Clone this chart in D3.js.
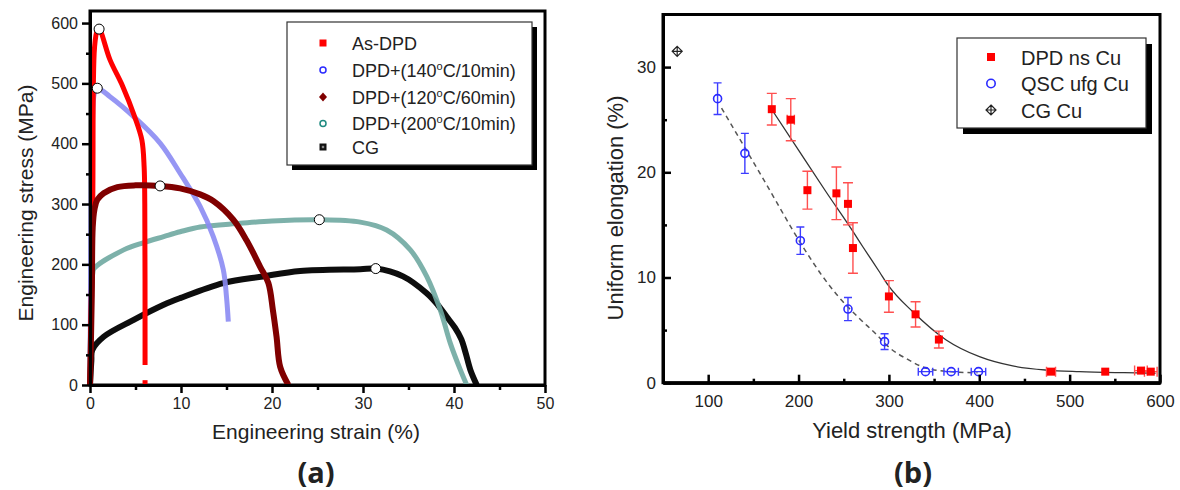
<!DOCTYPE html>
<html>
<head>
<meta charset="utf-8">
<script src="https://cdn.jsdelivr.net/npm/d3@7"></script>
<style>
    body { margin: 0; background: #fff; }
    text { font-family: "Liberation Sans", Arial, sans-serif; fill: #222; }
</style>
</head>
<body>
<div id="draw_here"></div>
<script type="text/javascript">
    // ---- (a) engineering stress-strain curves, [strain %, stress MPa]
    var asDpd = [[0,0],[0.3,300],[0.5,560],[0.8,588],[1.0,590],[2.2,539],[3.6,495],[4.9,445],[5.7,406],[5.95,361],[6.02,300],[6.05,33]]
    var asDpdTail = [[6.05,8],[6.05,0]]
    var dpd140 = [[0,0],[0.1,250],[0.25,430],[0.5,485],[0.8,492],[2.2,478],[4.8,445],[7.7,401],[9.9,351],[12.1,296],[13.55,246],[14.65,191],[15.0,146],[15.2,105]]
    var dpd120 = [[0,0],[0.2,150],[0.3,262],[0.5,292],[0.8,307],[1.5,318],[3.0,328],[5.0,331],[7.7,330],[9.9,326],[12.1,316],[13.55,305],[15.75,274],[17.2,240],[18.7,196],[19.6,169],[20.1,124],[20.5,80],[20.9,30],[21.8,0]]
    var dpd200 = [[0,0],[0.1,120],[0.3,185],[0.44,193],[3.7,224],[5.9,236],[8.1,246],[9.9,254],[12.1,262],[16.5,268],[20,272],[25.2,274],[29.7,270],[32.6,257],[35.2,224],[37.0,180],[38.5,124],[39.6,69],[40.7,25],[41.4,0]]
    var cg = [[0,0],[0.15,40],[0.25,58],[1.5,80],[4.8,108],[8.1,133],[9.9,144],[14.65,169],[19,180],[23.1,189],[29.7,192],[31.4,193],[34.4,180],[37.0,152],[38.2,133],[39.2,113],[40.1,95],[40.8,76],[41.3,52],[41.8,25],[42.5,0]]
    var peaksA = [[1.0,590],[0.8,492],[7.7,330],[25.2,274],[31.4,193]]

    var xTicksA = [0,10,20,30,40,50]
    var yTicksA = [0,100,200,300,400,500,600]

    // ---- (b) uniform elongation vs yield strength
    var dpdYs = [170.4,191.4,209.8,241.9,254.7,260.2,300,329.5,355.3,479.4,539.4,578.9,589.8]
    var dpdUe = [26.0,25.0,18.3,18.0,17.0,12.8,8.2,6.5,4.1,1.05,1.05,1.15,1.05]
    var dpdUeErr = [1.5,2.0,1.8,2.5,2.0,2.4,1.5,1.2,0.8,0,0,0,0]
    var dpdYsErr = [0,4,0,0,0,0,0,0,0,5,0,7,7]

    var qscYs = [110.4,140.6,202,254.7,295.2,340.5,368.9,399.1]
    var qscUe = [27.0,21.8,13.5,7.0,3.9,1.05,1.05,1.05]
    var qscUeErr = [1.5,1.9,1.3,1.1,0.75,0,0,0]
    var qscYsErr = [0,0,0,0,0,8,8,8]

    var cgYs = [65.7]
    var cgUe = [31.5]

    var fitDpdYs = [170.9,200,230,260,271.3,289.8,298.9,326.5,363.4,400.2,437,474,510.7,560,595]
    var fitDpdUe = [25.9,22.1,18.2,14.4,12.9,10.5,9.3,6.74,4.06,2.47,1.59,1.2,1.05,0.95,0.9]
    var fitQscYs = [114.8,160,205,225,244,265,286,301,319,345,378,398]
    var fitQscUe = [26.1,19.5,12.9,10.3,8.2,6.3,4.6,3.3,2.3,1.3,1.0,0.95]

    var xTicksB = [100,200,300,400,500,600]
    var yTicksB = [0,10,20,30]

    l_red = "#ff0000"
    l_blue = "#2b2bff"

    var svg = d3.select("div#draw_here").append("svg")
        .attr("width", 1180)
        .attr("height", 490)
        .attr("viewBox", [0, 0, 1180, 490]);

    // ================= panel (a) =================
    xA = d3.scaleLinear().domain([0, 50]).range([90, 545])
    yA = d3.scaleLinear().domain([0, 620]).range([385, 11])

    svg.append("rect")
        .attr("x", xA(0)).attr("y", yA(620))
        .attr("width", xA(50) - xA(0)).attr("height", yA(0) - yA(620))
        .attr("fill", "none").attr("stroke", "#000").attr("stroke-width", 3)

    lineA = d3.line()
        .x(d => xA(d[0]))
        .y(d => yA(d[1]))
        .curve(d3.curveCatmullRom.alpha(0.5))

    // drawing order as in the figure: black under, dark red on top
    var curvesA = [
        {data: cg, color: "#000", width: 6, op: 0.95},
        {data: dpd200, color: "#6fa9a1", width: 5, op: 0.9},
        {data: dpd140, color: "#8b8bf3", width: 5, op: 0.9},
        {data: asDpd, color: l_red, width: 5, op: 1},
        {data: asDpdTail, color: l_red, width: 5, op: 1},
        {data: dpd120, color: "#800000", width: 6, op: 1}
    ]
    curvesA.forEach(function(c) {
        svg.append("path")
            .attr("fill", "none")
            .attr("stroke", c.color)
            .attr("stroke-width", c.width)
            .attr("stroke-opacity", c.op)
            .attr("stroke-linejoin", "round")
            .attr("d", lineA(c.data))
    })

    svg.append("g").selectAll("circle")
        .data(peaksA)
        .join("circle")
        .attr("cx", d => xA(d[0]))
        .attr("cy", d => yA(d[1]))
        .attr("r", 5)
        .attr("fill", "#fff")
        .attr("stroke", "#000")
        .attr("stroke-width", 1)

    function styleAxis(g, size) {
        g.select(".domain").attr("stroke-width", 3)
        g.selectAll(".tick line").attr("stroke-width", 2.5)
        g.selectAll(".tick text")
            .attr("font-family", '"Liberation Sans", Arial, sans-serif')
            .attr("font-size", size)
            .attr("fill", "#222")
    }

    svg.append("g")
        .attr("transform", `translate(0,${yA(0)})`)
        .call(d3.axisBottom(xA).tickValues(d3.range(5, 50, 10)).tickSize(5).tickSizeOuter(0).tickFormat(""))
        .call(g => styleAxis(g, 16))
    svg.append("g")
        .attr("transform", `translate(0,${yA(0)})`)
        .call(d3.axisBottom(xA).tickValues(xTicksA).tickSize(8).tickPadding(5).tickSizeOuter(0))
        .call(g => styleAxis(g, 16))

    svg.append("g")
        .attr("transform", `translate(${xA(0)},0)`)
        .call(d3.axisLeft(yA).tickValues(d3.range(50, 600, 100)).tickSize(4).tickSizeOuter(0).tickFormat(""))
        .call(g => styleAxis(g, 16))
    svg.append("g")
        .attr("transform", `translate(${xA(0)},0)`)
        .call(d3.axisLeft(yA).tickValues(yTicksA).tickSize(8).tickPadding(4).tickSizeOuter(0))
        .call(g => styleAxis(g, 16))

    svg.append("text")
        .attr("x", 316).attr("y", 439)
        .attr("text-anchor", "middle")
        .attr("font-size", 21)
        .text("Engineering strain (%)")
    svg.append("text")
        .attr("transform", "translate(33,203) rotate(-90)")
        .attr("text-anchor", "middle")
        .attr("font-size", 21)
        .text("Engineering stress (MPa)")

    // legend (a)
    var legA = svg.append("g")
    legA.append("rect").attr("x", 292).attr("y", 27).attr("width", 245).attr("height", 143).attr("fill", "#000")
    legA.append("rect").attr("x", 287).attr("y", 22).attr("width", 245).attr("height", 143)
        .attr("fill", "#fff").attr("stroke", "#333").attr("stroke-width", 1.2)

    var legItemsA = [
        {y: 43, pre: "As-DPD", temp: null, post: ""},
        {y: 70, pre: "DPD+(140", temp: "o", post: "C/10min)"},
        {y: 97, pre: "DPD+(120", temp: "o", post: "C/60min)"},
        {y: 123.5, pre: "DPD+(200", temp: "o", post: "C/10min)"},
        {y: 147, pre: "CG", temp: null, post: ""}
    ]
    legItemsA.forEach(function(it) {
        var t = legA.append("text").attr("x", 352).attr("y", it.y + 6.5).attr("font-size", 18)
        t.append("tspan").text(it.pre)
        if (it.temp) {
            t.append("tspan").attr("dy", -7).attr("font-size", 11).text(it.temp)
            t.append("tspan").attr("dy", 7).text(it.post)
        }
    })
    var mx = 323
    legA.append("rect").attr("x", mx - 3.5).attr("y", 43 - 3.5).attr("width", 7).attr("height", 7).attr("fill", l_red)
    legA.append("circle").attr("cx", mx).attr("cy", 70).attr("r", 3).attr("fill", "#fff").attr("stroke", "#2b2bff").attr("stroke-width", 1.5)
    legA.append("path").attr("d", `M${mx},${97 - 4.5}L${mx + 4},97L${mx},${97 + 4.5}L${mx - 4},97Z`).attr("fill", "#800000")
    legA.append("circle").attr("cx", mx).attr("cy", 123.5).attr("r", 3).attr("fill", "#fff").attr("stroke", "#1f8a80").attr("stroke-width", 1.5)
    legA.append("rect").attr("x", mx - 3.5).attr("y", 147 - 3.5).attr("width", 7).attr("height", 7).attr("fill", "#111")
    legA.append("rect").attr("x", mx - 1.2).attr("y", 147 - 1.2).attr("width", 2.4).attr("height", 2.4).attr("fill", "#888")

    svg.append("text")
        .attr("x", 316).attr("y", 483)
        .attr("text-anchor", "middle")
        .attr("font-weight", 700)
        .attr("font-size", 29)
        .style("font-family", '"Open Sans", sans-serif')
        .text("(a)")

    // ================= panel (b) =================
    xB = d3.scaleLinear().domain([50, 600]).range([663, 1160])
    yB = d3.scaleLinear().domain([0, 35]).range([382.7, 14.5])

    svg.append("rect")
        .attr("x", xB(50)).attr("y", yB(35))
        .attr("width", xB(600) - xB(50)).attr("height", yB(0) - yB(35))
        .attr("fill", "none").attr("stroke", "#000").attr("stroke-width", 3)

    var lineB = d3.line()
        .x(d => xB(d[0]))
        .y(d => yB(d[1]))
        .curve(d3.curveMonotoneX)

    svg.append("path")
        .attr("fill", "none").attr("stroke", "#333").attr("stroke-width", 1.3)
        .attr("d", lineB(d3.zip(fitDpdYs, fitDpdUe)))
    svg.append("path")
        .attr("fill", "none").attr("stroke", "#555").attr("stroke-width", 1.5)
        .attr("stroke-dasharray", "5,4")
        .attr("d", lineB(d3.zip(fitQscYs, fitQscUe)))

    function errorBars(xs, ys, yerr, xerr, color, cap) {
        var g = svg.append("g").attr("stroke", color).attr("stroke-width", 1.4).attr("fill", "none")
        xs.forEach(function(xv, i) {
            if (yerr[i] > 0) {
                var y0 = yB(ys[i] - yerr[i]), y1 = yB(ys[i] + yerr[i]), px = xB(xv)
                g.append("path").attr("d", `M${px},${y0}V${y1}M${px - cap},${y0}H${px + cap}M${px - cap},${y1}H${px + cap}`)
            }
            if (xerr[i] > 0) {
                var x0 = xB(xv - xerr[i]), x1 = xB(xv + xerr[i]), py = yB(ys[i])
                g.append("path").attr("d", `M${x0},${py}H${x1}M${x0},${py - cap}V${py + cap}M${x1},${py - cap}V${py + cap}`)
            }
        })
    }
    errorBars(dpdYs, dpdUe, dpdUeErr, dpdYsErr, "#ff5050", 5)
    errorBars(qscYs, qscUe, qscUeErr, qscYsErr, "#3d3dff", 4)

    svg.append("g").selectAll("rect")
        .data(d3.zip(dpdYs, dpdUe))
        .join("rect")
        .attr("x", d => xB(d[0]) - 4)
        .attr("y", d => yB(d[1]) - 4)
        .attr("width", 8).attr("height", 8)
        .attr("fill", l_red)

    svg.append("g").selectAll("circle")
        .data(d3.zip(qscYs, qscUe))
        .join("circle")
        .attr("cx", d => xB(d[0]))
        .attr("cy", d => yB(d[1]))
        .attr("r", 4)
        .attr("fill", "none")
        .attr("stroke", l_blue)
        .attr("stroke-width", 1.6)

    function cgMarker(g, px, py) {
        g.append("path")
            .attr("d", `M${px},${py - 5}L${px + 5},${py}L${px},${py + 5}L${px - 5},${py}ZM${px},${py - 5}V${py + 5}M${px - 5},${py}H${px + 5}`)
            .attr("fill", "none").attr("stroke", "#222").attr("stroke-width", 1.2)
    }
    var cgG = svg.append("g")
    cgYs.forEach((v, i) => cgMarker(cgG, xB(v), yB(cgUe[i])))

    svg.append("g")
        .attr("transform", `translate(0,${yB(0)})`)
        .call(d3.axisBottom(xB).tickValues(d3.range(150, 600, 100)).tickSize(-4).tickSizeOuter(0).tickFormat(""))
        .call(g => styleAxis(g, 17))
    svg.append("g")
        .attr("transform", `translate(0,${yB(0)})`)
        .call(d3.axisBottom(xB).tickValues(xTicksB).tickSize(-8).tickPadding(12).tickSizeOuter(0))
        .call(g => styleAxis(g, 17))
    svg.append("g")
        .attr("transform", `translate(${xB(50)},0)`)
        .call(d3.axisLeft(yB).tickValues([5, 15, 25]).tickSize(-4).tickSizeOuter(0).tickFormat(""))
        .call(g => styleAxis(g, 17))
    svg.append("g")
        .attr("transform", `translate(${xB(50)},0)`)
        .call(d3.axisLeft(yB).tickValues(yTicksB).tickSize(-8).tickPadding(7).tickSizeOuter(0))
        .call(g => styleAxis(g, 17))

    svg.append("text")
        .attr("x", 912).attr("y", 438)
        .attr("text-anchor", "middle")
        .attr("font-size", 22)
        .text("Yield strength (MPa)")
    svg.append("text")
        .attr("transform", "translate(623,208) rotate(-90)")
        .attr("text-anchor", "middle")
        .attr("font-size", 22)
        .text("Uniform elongation (%)")

    // legend (b)
    var legB = svg.append("g")
    legB.append("rect").attr("x", 963).attr("y", 44).attr("width", 189).attr("height", 90).attr("fill", "#000")
    legB.append("rect").attr("x", 957).attr("y", 38).attr("width", 189).attr("height", 90)
        .attr("fill", "#fff").attr("stroke", "#333").attr("stroke-width", 1.2)
    var legItemsB = [{y: 57, label: "DPD ns Cu"}, {y: 83.5, label: "QSC ufg Cu"}, {y: 110, label: "CG Cu"}]
    legItemsB.forEach(function(it) {
        legB.append("text").attr("x", 1021).attr("y", it.y + 7.5).attr("font-size", 20).text(it.label)
    })
    legB.append("rect").attr("x", 991 - 4).attr("y", 57 - 4).attr("width", 8).attr("height", 8).attr("fill", l_red)
    legB.append("circle").attr("cx", 991).attr("cy", 83.5).attr("r", 4.2).attr("fill", "none").attr("stroke", l_blue).attr("stroke-width", 1.6)
    cgMarker(legB, 991, 110)

    svg.append("text")
        .attr("x", 913).attr("y", 483)
        .attr("text-anchor", "middle")
        .attr("font-weight", 700)
        .attr("font-size", 29)
        .style("font-family", '"Open Sans", sans-serif')
        .text("(b)")
</script>
</body>
</html>
